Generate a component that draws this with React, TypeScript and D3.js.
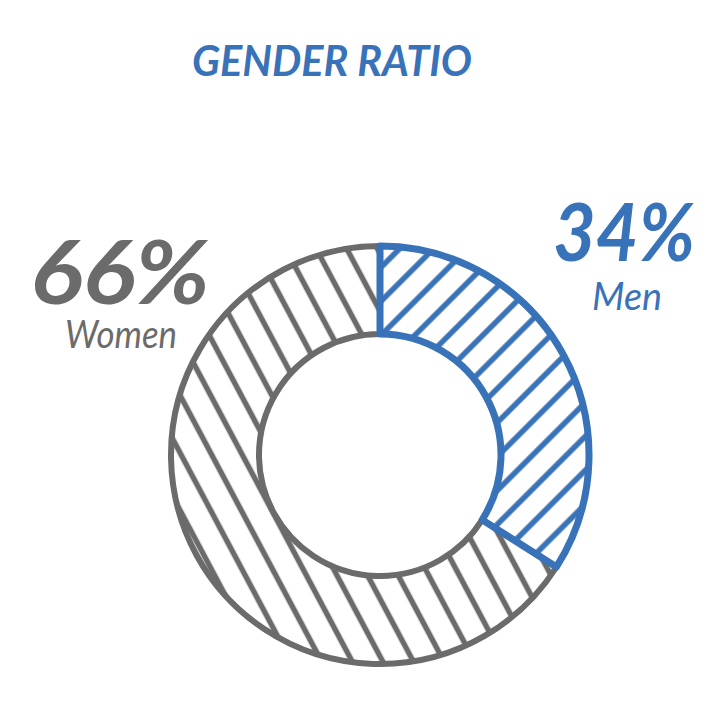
import React from "react";
import * as d3 from "d3";

const categories = ["Men", "Women"];
const values = [34, 66];
const colors = ["#3872b8", "#6b6b6b"];
const title = "GENDER RATIO";

export default function App() {
  const W = 722, H = 722;
  const cx = 380, cy = 455, rOuter = 209, rInner = 121;
  const pie = d3.pie<number>().sort(null).value((d) => d)(values);
  const arc = d3.arc<d3.PieArcDatum<number>>().innerRadius(rInner).outerRadius(rOuter);
  const spacing = [24, 27];
  return (
    <svg width={W} height={H} style={{ position: "absolute", left: 0, top: 0 }}>
      <defs>
        {pie.map((p, i) => (
          <pattern key={i} id={`hatch${i}`} patternUnits="userSpaceOnUse" width={spacing[i]} height={40}
            patternTransform={`rotate(${i === 0 ? 45 : -28})`}>
            <line x1={spacing[i] / 2} y1={-5} x2={spacing[i] / 2} y2={45} stroke={colors[i]} strokeWidth={5.5} />
          </pattern>
        ))}
      </defs>
      <rect width={W} height={H} fill="#fff" />
      <text x={332} y={76} textAnchor="middle" fontFamily="Lato, sans-serif" fontStyle="italic" fontWeight={700}
        fontSize={42} fill={colors[0]} textLength={280} lengthAdjust="spacingAndGlyphs">{title}</text>
      <g transform={`translate(${cx},${cy})`}>
        {[1, 0].map((i) => (
          <path key={i} d={arc(pie[i]) as string} fill={`url(#hatch${i})`} stroke={colors[i]}
            strokeWidth={i === 0 ? 7 : 6} strokeLinejoin="round" />
        ))}
      </g>
      <text x={120} y={304} textAnchor="middle" fontFamily="Lato, sans-serif" fontStyle="italic" fontWeight={700}
        fontSize={88} fill={colors[1]} textLength={180} lengthAdjust="spacingAndGlyphs">{values[1]}%</text>
      <text x={121} y={348} textAnchor="middle" fontFamily="Lato, sans-serif" fontStyle="italic"
        fontSize={38} fill={colors[1]} textLength={112} lengthAdjust="spacingAndGlyphs">{categories[1]}</text>
      <text x={624} y={261} textAnchor="middle" fontFamily="Lato, sans-serif" fontStyle="italic" fontWeight={700}
        fontSize={80} fill={colors[0]} textLength={142} lengthAdjust="spacingAndGlyphs">{values[0]}%</text>
      <text x={627} y={310} textAnchor="middle" fontFamily="Lato, sans-serif" fontStyle="italic"
        fontSize={38} fill={colors[0]} textLength={70} lengthAdjust="spacingAndGlyphs">{categories[0]}</text>
    </svg>
  );
}
